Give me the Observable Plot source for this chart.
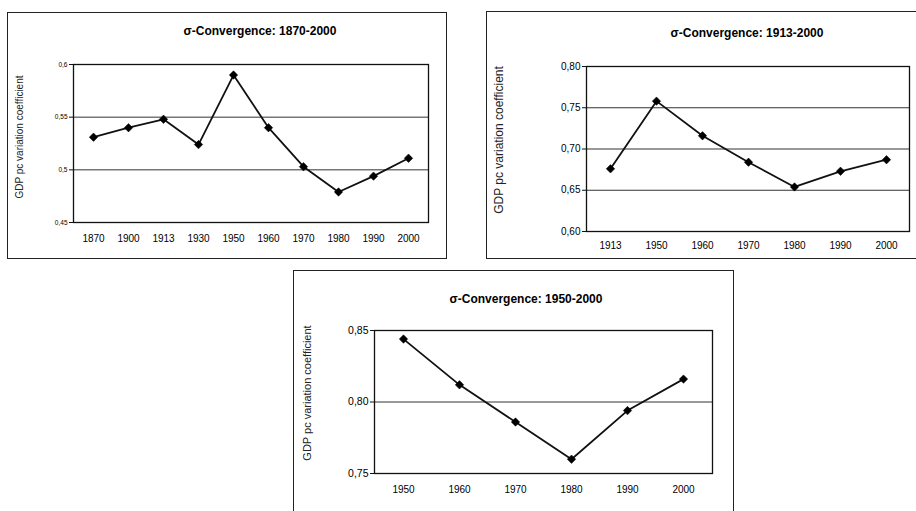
<!DOCTYPE html>
<html><head><meta charset="utf-8">
<script src="https://cdn.jsdelivr.net/npm/d3@7"></script>
<script src="https://cdn.jsdelivr.net/npm/@observablehq/plot@0.6"></script>
<style>
html,body{margin:0;padding:0;background:#fff;}
body{width:916px;height:511px;overflow:hidden;position:relative;font-family:Arial,"Liberation Sans",sans-serif;}
.panel{position:absolute;border:1px solid #222;box-sizing:border-box;background:#fff;}
.panel svg{position:absolute;left:0;top:0;}
.title{position:absolute;font-weight:bold;white-space:nowrap;transform:translate(-50%,-50%);color:#000;}
.ylab{position:absolute;white-space:nowrap;transform:translate(-50%,-50%) rotate(-90deg);color:#222;}
</style></head><body>
<script>
// ---- data ----
const years1870 = ["1870","1900","1913","1930","1950","1960","1970","1980","1990","2000"];
const cv1870 = [0.531,0.540,0.548,0.524,0.590,0.540,0.503,0.479,0.494,0.511];
const ticks1870 = [0.45,0.5,0.55,0.6];

const years1913 = ["1913","1950","1960","1970","1980","1990","2000"];
const cv1913 = [0.676,0.758,0.716,0.684,0.654,0.673,0.687];
const ticks1913 = [0.60,0.65,0.70,0.75,0.80];

const years1950 = ["1950","1960","1970","1980","1990","2000"];
const cv1950 = [0.844,0.812,0.786,0.760,0.794,0.816];
const ticks1950 = [0.75,0.80,0.85];

const titles = ["σ-Convergence: 1870-2000","σ-Convergence: 1913-2000","σ-Convergence: 1950-2000"];
const yLabel = "GDP pc variation coefficient";

// ---- layout ----
const fmtShort = d => String(d).replace(".", ",");
const fmt2 = d => d3.format(".2f")(d).replace(".", ",");

const panels = [
  {years: years1870, values: cv1870, ticks: ticks1870, title: titles[0], fmt: fmtShort,
   box: {left: 7, top: 12, w: 440, h: 247},
   m: {l: 65, r: 18, t: 51, b: 36}, yFont: 6.5, xFont: 10, xPad: 12, titleFont: 12, titleX: 252, titleY: 18,
   labX: 11, labY: 124, labFont: 10},
  {years: years1913, values: cv1913, ticks: ticks1913, title: titles[1], fmt: fmt2,
   box: {left: 486, top: 11, w: 436, h: 248},
   m: {l: 99, r: 12, t: 54, b: 27}, yFont: 10, xFont: 10, xPad: 10, titleFont: 12, titleX: 260, titleY: 21,
   labX: 12, labY: 128, labFont: 12},
  {years: years1950, values: cv1950, ticks: ticks1950, title: titles[2], fmt: fmt2,
   box: {left: 293, top: 270, w: 441, h: 260},
   m: {l: 80, r: 21, t: 59, b: 56}, yFont: 10.5, xFont: 10, xPad: 12, titleFont: 12, titleX: 232, titleY: 28,
   labX: 13, labY: 122, labFont: 11}
];

for (const p of panels) {
  const data = p.years.map((year, i) => ({year, value: p.values[i]}));
  const div = document.createElement("div");
  div.className = "panel";
  Object.assign(div.style, {left: p.box.left + "px", top: p.box.top + "px", width: p.box.w + "px", height: p.box.h + "px"});
  const W = p.box.w - 2, H = p.box.h - 2;
  const chart = Plot.plot({
    width: W, height: H,
    marginLeft: p.m.l, marginRight: p.m.r, marginTop: p.m.t, marginBottom: p.m.b,
    style: {fontFamily: 'Arial, "Liberation Sans", sans-serif', color: "#000", background: "transparent", overflow: "visible"},
    x: {type: "point", domain: p.years, padding: 0.5, label: null, axis: null},
    y: {domain: [p.ticks[0], p.ticks[p.ticks.length - 1]], label: null, axis: null},
    marks: [
      Plot.ruleY(p.ticks, {stroke: "#333", strokeWidth: 1}),
      Plot.frame({stroke: "#111", strokeWidth: 1.3}),
      Plot.axisY({ticks: p.ticks, tickFormat: p.fmt, tickSize: 4, tickPadding: 2, fontSize: p.yFont, label: null, stroke: "#111"}),
      Plot.axisX({tickSize: 0, tickPadding: p.xPad, fontSize: p.xFont, label: null}),
      Plot.line(data, {x: "year", y: "value", stroke: "#111", strokeWidth: 1.8}),
      Plot.dot(data, {x: "year", y: "value", symbol: "diamond2", r: 3.8, fill: "#000", stroke: "#000", strokeWidth: 0.5})
    ]
  });
  div.appendChild(chart);
  const t = document.createElement("div");
  t.className = "title";
  t.textContent = p.title;
  Object.assign(t.style, {left: p.titleX + "px", top: p.titleY + "px", fontSize: p.titleFont + "px"});
  div.appendChild(t);
  const yl = document.createElement("div");
  yl.className = "ylab";
  yl.textContent = yLabel;
  Object.assign(yl.style, {left: p.labX + "px", top: p.labY + "px", fontSize: p.labFont + "px"});
  div.appendChild(yl);
  document.body.appendChild(div);
}
</script>
</body></html>
